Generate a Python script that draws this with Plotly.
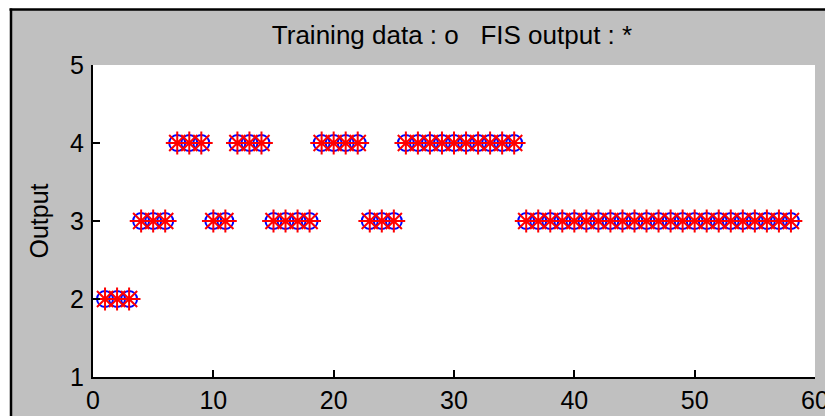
import plotly.graph_objects as go

# ---- data ----
sample_index = list(range(1, 59))
training_output = [2, 2, 2, 3, 3, 3, 4, 4, 4, 3, 3, 4, 4, 4, 3, 3, 3, 3, 4, 4, 4, 4,
                   3, 3, 3, 4, 4, 4, 4, 4, 4, 4, 4, 4, 4,
                   3, 3, 3, 3, 3, 3, 3, 3, 3, 3, 3, 3, 3, 3, 3, 3, 3, 3, 3, 3, 3, 3, 3]
fis_output = list(training_output)
x_ticks = [0, 10, 20, 30, 40, 50, 60]
y_ticks = [1, 2, 3, 4, 5]
title_text = "Training data : o   FIS output : *"
y_title = "Output"

W, H = 825, 416
L, R, T, B = 93, 10, 65, 39
PW, PH = W - L - R, H - T - B


def px(xpix):
    return (xpix - L) / PW


def py(ypix):
    return (H - B - ypix) / PH


FONT = "Liberation Sans, Arial, sans-serif"
FS = 25

fig = go.Figure()
fig.add_trace(go.Scatter(
    x=sample_index, y=training_output, mode="markers",
    marker=dict(symbol="circle-open", size=16, color="#0000ff", line=dict(width=2, color="#0000ff")),
    showlegend=False, hoverinfo="skip", cliponaxis=False))
fig.add_trace(go.Scatter(
    x=sample_index, y=fis_output, mode="markers",
    marker=dict(symbol="asterisk-open", size=19, color="#ff0000", line=dict(width=2, color="#ff0000")),
    showlegend=False, hoverinfo="skip", cliponaxis=False))

shapes = [
    # white outside the window frame
    dict(type="rect", xref="paper", yref="paper", x0=px(-5), x1=px(W + 5), y0=py(9.5), y1=py(-5),
         fillcolor="white", line=dict(width=0), layer="below"),
    dict(type="rect", xref="paper", yref="paper", x0=px(-5), x1=px(10.5), y0=py(H + 5), y1=py(-5),
         fillcolor="white", line=dict(width=0), layer="below"),
    # black frame lines
    dict(type="line", xref="paper", yref="paper", x0=px(9.5), x1=px(W + 5), y0=py(9.5), y1=py(9.5),
         line=dict(color="black", width=2.5)),
    dict(type="line", xref="paper", yref="paper", x0=px(11), x1=px(11), y0=py(8.5), y1=py(H + 5),
         line=dict(color="black", width=2.5)),
]

fig.update_layout(
    template="none",
    width=W, height=H, autosize=False,
    margin=dict(l=L, r=R, t=T, b=B, pad=0),
    paper_bgcolor="#c0c0c0", plot_bgcolor="white",
    font=dict(family=FONT, size=FS, color="black"),
    title=dict(text=title_text, x=px(452), xanchor="center", xref="paper",
               y=1 - 35 / H, yanchor="middle", yref="container", automargin=False,
               font=dict(family=FONT, size=26, color="black")),
    shapes=shapes,
    xaxis=dict(range=[0, 60], tickvals=x_ticks, ticktext=[str(v) for v in x_ticks],
               ticks="inside", ticklen=7, tickwidth=1.5, tickcolor="black",
               showline=True, linecolor="black", linewidth=2, mirror=False,
               showgrid=False, zeroline=False, ticklabelstandoff=0,
               ticklabeloverflow="allow", automargin=False,
               tickfont=dict(family=FONT, size=FS, color="black")),
    yaxis=dict(range=[1, 5], tickvals=y_ticks, ticktext=[str(v) for v in y_ticks],
               ticks="inside", ticklen=7, tickwidth=1.5, tickcolor="black",
               showline=True, linecolor="black", linewidth=2, mirror=False,
               showgrid=False, zeroline=False, ticklabelstandoff=2,
               ticklabeloverflow="allow", automargin=False,
               tickfont=dict(family=FONT, size=FS, color="black"),
               title=dict(text=y_title, standoff=14, font=dict(family=FONT, size=FS, color="black"))),
)

fig.write_html(
    "out.html",
    config={"displayModeBar": False, "responsive": False},
    post_script=("document.documentElement.style.overflow='hidden';"
                 "document.body.style.overflow='hidden';"
                 "document.body.style.margin='0px';"),
)
